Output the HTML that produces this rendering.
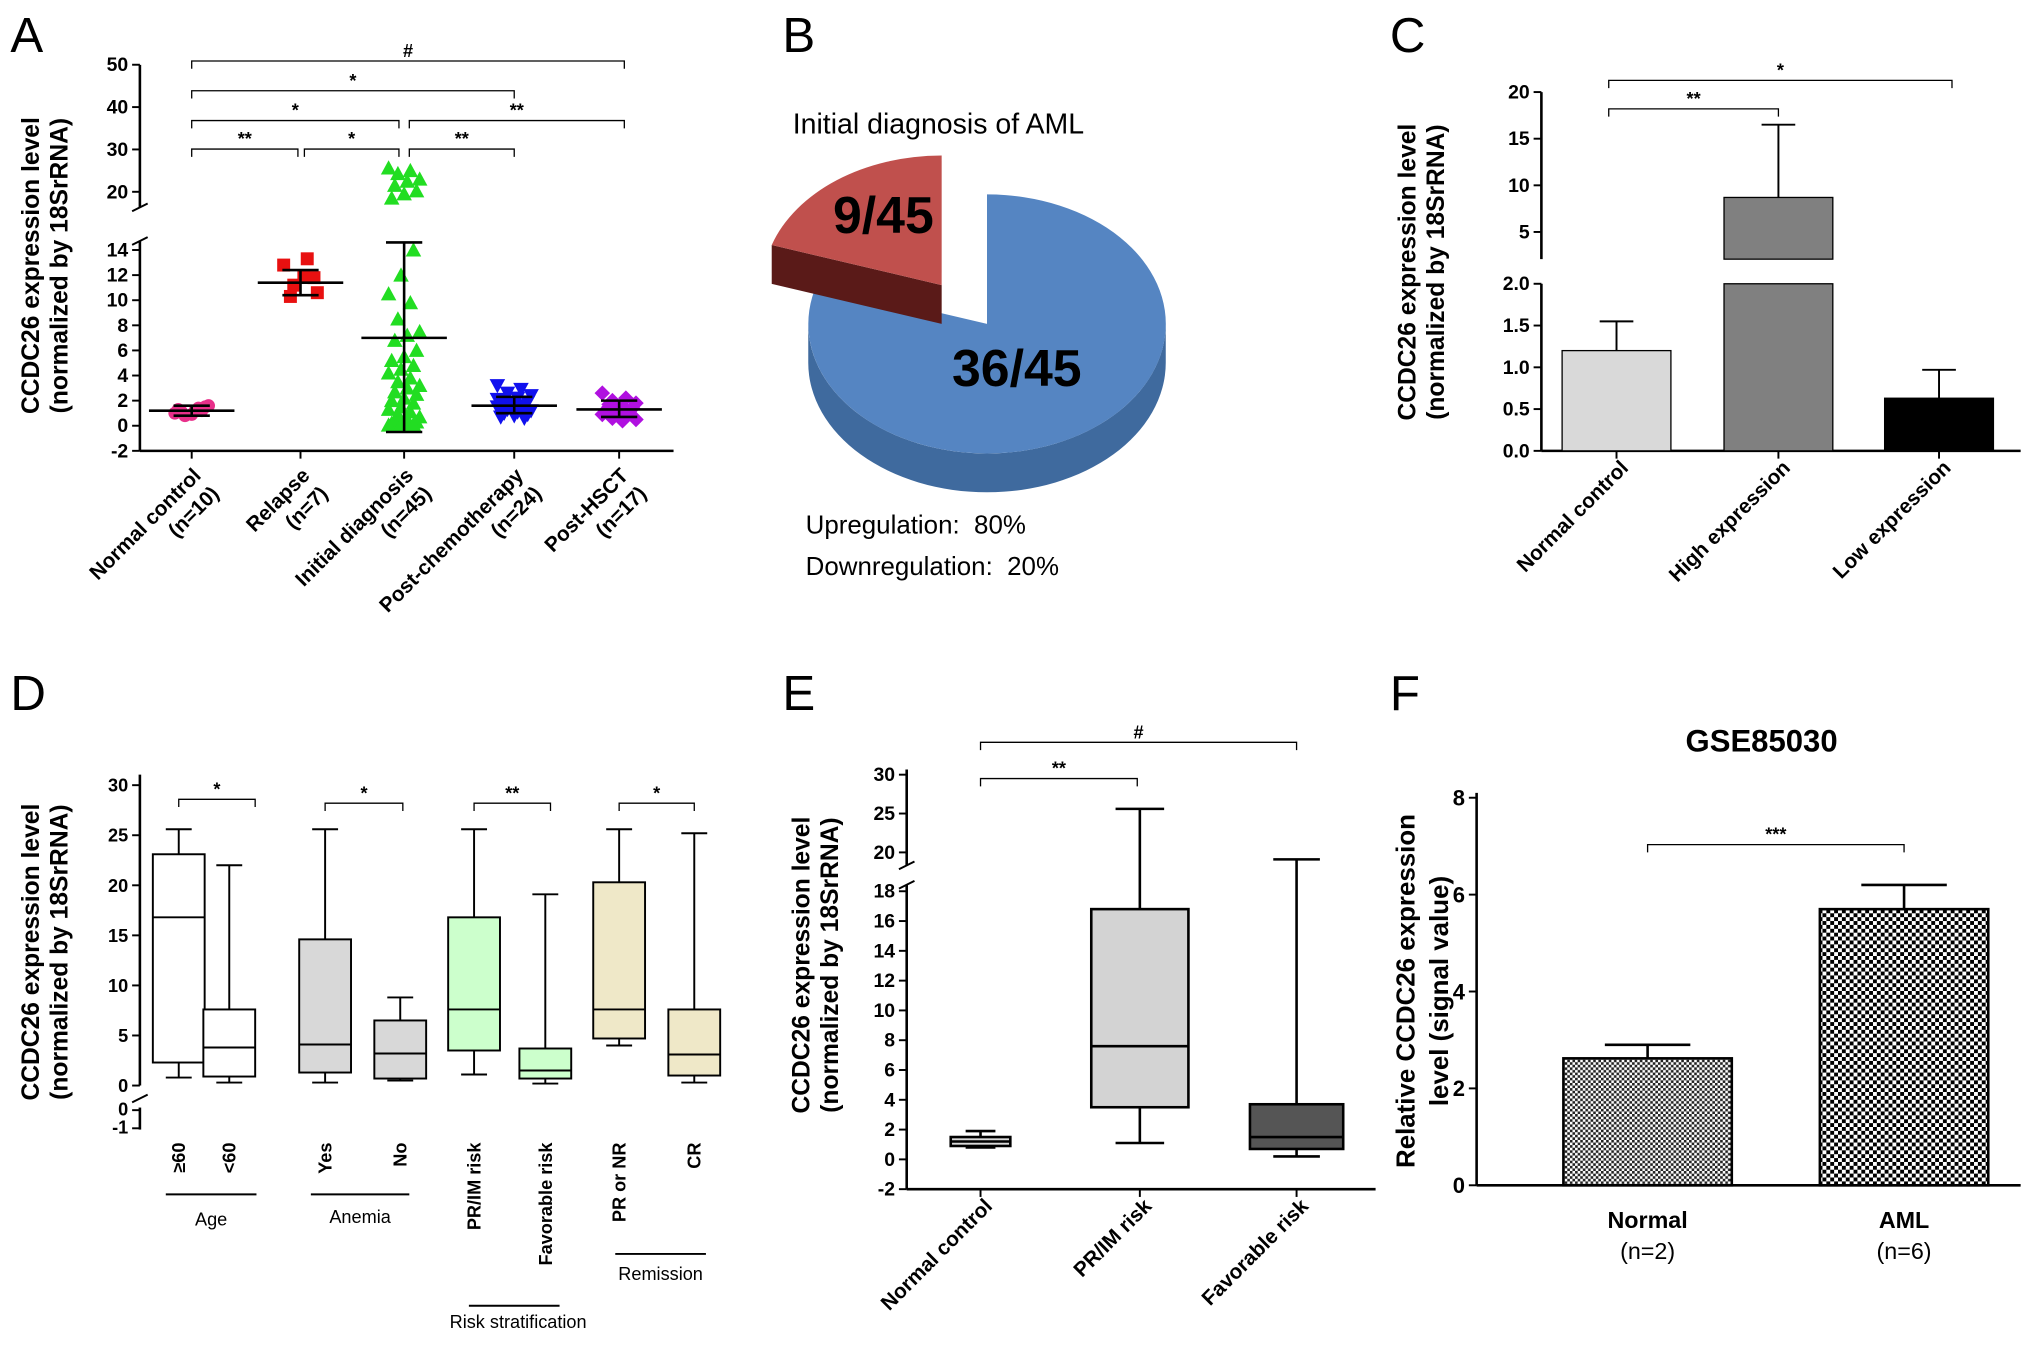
<!DOCTYPE html>
<html><head><meta charset="utf-8"><style>
html,body{margin:0;padding:0;background:#fff;}
svg{display:block;font-family:"Liberation Sans",Arial,sans-serif;}
</style></head><body>
<svg id="fig" width="2031" height="1346" viewBox="0 0 1568 1039" xmlns="http://www.w3.org/2000/svg">
<defs>
<pattern id="chkF" width="6" height="6" patternUnits="userSpaceOnUse"><rect width="6" height="6" fill="#fff"/><rect width="3" height="3" fill="#000"/><rect x="3" y="3" width="3" height="3" fill="#000"/></pattern>
<pattern id="chkN" width="4" height="4" patternUnits="userSpaceOnUse"><rect width="4" height="4" fill="#fff"/><rect width="2" height="2" fill="#222"/><rect x="2" y="2" width="2" height="2" fill="#222"/></pattern>
</defs>
</svg>
<script>
// ===== Panel A data =====
const aCats = ["Normal control","Relapse","Initial diagnosis","Post-chemotherapy","Post-HSCT"];
const aN = ["(n=10)","(n=7)","(n=45)","(n=24)","(n=17)"];
const aNormal = [1.0,1.4,0.8,1.6,1.2,1.1,1.5,0.9,1.3,1.2];
const aRelapse = [12.8,13.3,11.2,10.6,11.9,10.3,11.8];
const aInitial = [25.6,25,24.3,23,22.5,21.5,20.2,19.5,18.5,14,12,10.5,9.8,8.5,7.5,7.2,6.8,6,5.5,5.2,4.8,4.5,4.2,3.8,3.5,3.2,3,2.7,2.5,2.2,2,1.8,1.5,1.3,1.1,0.9,0.7,0.5,0.4,0.3,0.2,0.2,0.1,0.1,0.05];
const aChemo = [3.2,2.9,2.6,2.4,2.2,2.0,1.9,1.8,1.7,1.6,1.5,1.5,1.4,1.3,1.2,1.1,1.0,0.9,0.8,0.7,0.6,1.8,2.1,1.2];
const aHSCT = [2.6,2.2,2.0,1.8,1.6,1.5,1.4,1.3,1.2,1.1,1.0,0.9,0.8,0.6,0.5,0.4,1.7];
const aMeans = [1.2,11.4,7.0,1.6,1.3];
const aErrLo = [0.8,10.4,-0.5,1.0,0.7];
const aErrHi = [1.6,12.4,14.6,2.3,2.0];
const aLowTicks = [-2,0,2,4,6,8,10,12,14];
const aHighTicks = [20,30,40,50];
// ===== Panel C data =====
const cCats = ["Normal control","High expression","Low expression"];
const cVals = [1.2,8.7,0.63];
const cErr = [1.55,16.5,0.97];
const cLowTicks = [0,0.5,1.0,1.5,2.0];
const cHighTicks = [5,10,15,20];
// ===== Panel D data =====
const dLabels = ["≥60","<60","Yes","No","PR/IM risk","Favorable risk","PR or NR","CR"];
const dMin = [0.8,0.3,0.3,0.5,1.1,0.2,4.0,0.3];
const dQ1 = [2.3,0.9,1.3,0.7,3.5,0.7,4.7,1.0];
const dMed = [16.8,3.8,4.1,3.2,7.6,1.5,7.6,3.1];
const dQ3 = [23.1,7.6,14.6,6.5,16.8,3.7,20.3,7.6];
const dMax = [25.6,22.0,25.6,8.8,25.6,19.1,25.6,25.2];
const dTicks = [0,5,10,15,20,25,30];
// ===== Panel E data =====
const eCats = ["Normal control","PR/IM risk","Favorable risk"];
const eMin = [0.8,1.1,0.2];
const eQ1 = [0.9,3.5,0.7];
const eMed = [1.2,7.6,1.5];
const eQ3 = [1.5,16.8,3.7];
const eMax = [1.9,25.6,19.1];
const eLowTicks = [-2,0,2,4,6,8,10,12,14,16,18];
const eHighTicks = [20,25,30];
// ===== Panel F data =====
const fCats = ["Normal","AML"];
const fN = ["(n=2)","(n=6)"];
const fVals = [2.62,5.7];
const fErr = [2.9,6.2];
const fTicks = [0,2,4,6,8];
// ===== Panel B data =====
const pieVals = [36,9];

const NS="http://www.w3.org/2000/svg";
const svg=document.getElementById('fig');
function mk(tag,attrs,name,parent){
  const e=document.createElementNS(NS,tag);
  for(const k in attrs) e.setAttribute(k,attrs[k]);
  
  
  (parent||svg).appendChild(e);
  return e;
}
function txt(x,y,s,size,name,opt){
  opt=opt||{};
  const a={x:x,y:y,'font-size':size,fill:opt.fill||'#000','text-anchor':opt.anchor||'start'};
  if(opt.bold) a['font-weight']='bold';
  if(opt.rot!==undefined) a.transform='rotate('+opt.rot+' '+x+' '+y+')';
  if(opt.family) a['font-family']=opt.family;
  const t=mk('text',a,name,opt.parent);
  t.textContent=s;
  return t;
}
function line(x1,y1,x2,y2,name,w,c){return mk('line',{x1:x1,y1:y1,x2:x2,y2:y2,stroke:c||'#000','stroke-width':w||1.5},name);}
function bracket(x1,x2,y,label,name){
  mk('path',{d:'M'+x1+' '+(y+6)+'V'+y+'H'+x2+'V'+(y+6),fill:'none',stroke:'#000','stroke-width':1},name);
  txt((x1+x2)/2,y-3,label,14,name+'-label',{anchor:'middle',bold:true});
}
function panelLetter(x,y,s){txt(x,y,s,38,'panel-letter-'+s.toLowerCase(),{});}

panelLetter(8,40,'A');panelLetter(604,40,'B');panelLetter(1073,40,'C');
panelLetter(8,548,'D');panelLetter(604,548,'E');panelLetter(1073,548,'F');

// ================= PANEL A =================
const yA=v=> v<=15 ? 328.6 - v*9.69 : 148 - (v-20)*3.27;
const xA=[148,232,312,397,478];
const axA=108;
line(axA,348,axA,186,'a-y-axis-lower',2);
line(axA,160,axA,50,'a-y-axis-upper',2);
line(axA-6,189,axA+6,183,'a-axis-break',1.5);line(axA-6,163,axA+6,157,'a-axis-break',1.5);
aLowTicks.forEach(v=>{line(axA-6,yA(v),axA,yA(v),'a-y-tick',1.5);txt(axA-9,yA(v)+5,String(v),15,'a-y-tick-label',{anchor:'end',bold:true});});
aHighTicks.forEach(v=>{line(axA-6,yA(v),axA,yA(v),'a-y-tick',1.5);txt(axA-9,yA(v)+5,String(v),15,'a-y-tick-label',{anchor:'end',bold:true});});
line(axA,348,520,348,'a-x-axis',2);
xA.forEach(x=>line(x,348,x,354,'a-x-tick',1.5));
txt(30,205,'CCDC26 expression level',19,'a-y-axis-title',{anchor:'middle',bold:true,rot:-90});
txt(52,205,'(normalized by 18SrRNA)',19,'a-y-axis-title-2',{anchor:'middle',bold:true,rot:-90});
aCats.forEach((c,i)=>{
  txt(xA[i]+8,368,c,16,'a-x-label',{anchor:'end',bold:true,rot:-45});
  txt(xA[i]+22,382,aN[i],16,'a-x-label-n',{anchor:'end',bold:true,rot:-45});
});
function jit(i,n){return ((i*7)%11-5)*n;}
const aSeries=[aNormal,aRelapse,aInitial,aChemo,aHSCT];
const aCol=['#e8308a','#e81010','#22dd22','#1010ee','#b010e0'];
aSeries.forEach((arr,k)=>{
  arr.forEach((v,i)=>{
    const x=xA[k]+jit(i,k==2?2.4:2.6), y=yA(v);
    if(k==0) mk('circle',{cx:x,cy:y,r:5,fill:aCol[k]},'a-point-normal');
    else if(k==1) mk('rect',{x:x-5,y:y-5,width:10,height:10,fill:aCol[k]},'a-point-relapse');
    else if(k==2) mk('path',{d:'M'+x+' '+(y-6)+'L'+(x+6)+' '+(y+5)+'L'+(x-6)+' '+(y+5)+'Z',fill:aCol[k]},'a-point-initial');
    else if(k==3) mk('path',{d:'M'+(x-6)+' '+(y-5)+'L'+(x+6)+' '+(y-5)+'L'+x+' '+(y+6)+'Z',fill:aCol[k]},'a-point-chemo');
    else mk('path',{d:'M'+x+' '+(y-6)+'L'+(x+6)+' '+y+'L'+x+' '+(y+6)+'L'+(x-6)+' '+y+'Z',fill:aCol[k]},'a-point-hsct');
  });
  const x=xA[k];
  line(x-33,yA(aMeans[k]),x+33,yA(aMeans[k]),'a-mean-line',2);
  line(x,yA(aErrLo[k]),x,yA(aErrHi[k]),'a-error-bar',2);
  line(x-14,yA(aErrLo[k]),x+14,yA(aErrLo[k]),'a-error-cap',2);
  line(x-14,yA(aErrHi[k]),x+14,yA(aErrHi[k]),'a-error-cap',2);
});
bracket(148,482,47,'#','a-bracket-hash');
bracket(148,397,70,'*','a-bracket');
bracket(148,308,93,'*','a-bracket');
bracket(316,482,93,'**','a-bracket');
bracket(148,230,115,'**','a-bracket');
bracket(235,308,115,'*','a-bracket');
bracket(316,397,115,'**','a-bracket');

// ================= PANEL B =================
(function(){
  const cx=762,cy=250,rx=138,ry=100,dep=30;
  const tot=pieVals[0]+pieVals[1];
  const a0=-90*Math.PI/180, a1=a0+pieVals[0]/tot*2*Math.PI;
  const P=(a,dx,dy,dz)=>[(cx+dx+rx*Math.cos(a)).toFixed(1),(cy+dy+dz+ry*Math.sin(a)).toFixed(1)];
  mk('path',{d:`M${P(0,0,0,0)} A${rx} ${ry} 0 0 1 ${P(Math.PI,0,0,0)} L${P(Math.PI,0,0,dep)} A${rx} ${ry} 0 0 0 ${P(0,0,0,dep)}Z`,fill:'#3f6a9e'},'b-slice-blue-side');
  const large=(a1-a0)>Math.PI?1:0;
  mk('path',{d:`M${cx} ${cy} L${P(a0,0,0,0)} A${rx} ${ry} 0 ${large} 1 ${P(a1,0,0,0)} Z`,fill:'#5585c2'},'b-slice-upregulation');
  const dx=-35,dy=-30;
  mk('path',{d:`M${cx+dx} ${cy+dy} L${cx+dx} ${cy+dy+dep} L${P(a1,dx,dy,dep)} L${P(a1,dx,dy,0)}Z`,fill:'#5a1a18'},'b-slice-red-side');
  mk('path',{d:`M${cx+dx} ${cy+dy} L${P(a1,dx,dy,0)} A${rx} ${ry} 0 0 1 ${P(a0+2*Math.PI,dx,dy,0)} Z`,fill:'#c0504d'},'b-slice-downregulation');
  txt(682,180,'9/45',40,'b-label-9-45',{anchor:'middle',bold:true,family:'"Liberation Sans Narrow","Liberation Sans",sans-serif'});
  txt(785,298,'36/45',40,'b-label-36-45',{anchor:'middle',bold:true,family:'"Liberation Sans Narrow","Liberation Sans",sans-serif'});
})();
txt(612,103,'Initial diagnosis of AML',22,'b-title',{});
txt(622,412,'Upregulation:\u00a0\u00a080%',20,'b-legend-up',{});
txt(622,444,'Downregulation:\u00a0\u00a020%',20,'b-legend-down',{});

// ================= PANEL C =================
const yC=v=> v<=2.05 ? 348 - v*64.5 : 179 - (v-5)*7.2;
const xC=[1248,1373,1497];
const axC=1190, bwC=84;
line(axC,348,axC,219,'c-y-axis-lower',2);
line(axC,200,axC,71,'c-y-axis-upper',2);
cLowTicks.forEach(v=>{line(axC-6,yC(v),axC,yC(v),'c-y-tick',1.5);txt(axC-9,yC(v)+5,v.toFixed(1),15,'c-y-tick-label',{anchor:'end',bold:true});});
cHighTicks.forEach(v=>{line(axC-6,yC(v),axC,yC(v),'c-y-tick',1.5);txt(axC-9,yC(v)+5,String(v),15,'c-y-tick-label',{anchor:'end',bold:true});});
line(axC,348,1560,348,'c-x-axis',2);
txt(1093,210,'CCDC26 expression level',19,'c-y-axis-title',{anchor:'middle',bold:true,rot:-90});
txt(1115,210,'(normalized by 18SrRNA)',19,'c-y-axis-title-2',{anchor:'middle',bold:true,rot:-90});
const cFill=['#d9d9d9','#808080','#000'];
cVals.forEach((v,i)=>{
  const x=xC[i]-bwC/2;
  line(xC[i],yC(v),xC[i],yC(cErr[i]),'c-error-bar',1.5);
  line(xC[i]-13,yC(cErr[i]),xC[i]+13,yC(cErr[i]),'c-error-cap',1.5);
  if(v>2.05){
    mk('rect',{x:x,y:219,width:bwC,height:348-219,fill:cFill[i],stroke:'#000','stroke-width':1},'c-bar-lower');
    mk('rect',{x:x,y:yC(v),width:bwC,height:200-yC(v),fill:cFill[i],stroke:'#000','stroke-width':1},'c-bar-upper');
  } else mk('rect',{x:x,y:yC(v),width:bwC,height:348-yC(v),fill:cFill[i],stroke:'#000','stroke-width':1},'c-bar');
  line(xC[i],348,xC[i],354,'c-x-tick',1.5);
  txt(xC[i]+10,362,cCats[i],16,'c-x-label',{anchor:'end',bold:true,rot:-45});
});
bracket(1242,1373,84,'**','c-bracket');
bracket(1242,1507,62,'*','c-bracket');

// ================= PANEL D =================
const yD=v=>838 - v*7.73;
const xD=[138,177,251,309,366,421,478,536];
const axD=108, bwD=40;
line(axD,838,axD,598,'d-y-axis',2);
line(axD,855,axD,872,'d-y-axis-lower',2);
dTicks.forEach(v=>{line(axD-6,yD(v),axD,yD(v),'d-y-tick',1.5);txt(axD-9,yD(v)+5,String(v),14,'d-y-tick-label',{anchor:'end',bold:true});});
line(axD-6,857,axD,857,'d-y-tick',1.5);txt(axD-9,861,'0',14,'d-y-tick-label',{anchor:'end',bold:true});
line(axD-6,871,axD,871,'d-y-tick',1.5);txt(axD-9,875,'-1',14,'d-y-tick-label',{anchor:'end',bold:true});
line(axD-6,851,axD+6,845,'d-axis-break',1.5);
txt(30,735,'CCDC26 expression level',19,'d-y-axis-title',{anchor:'middle',bold:true,rot:-90});
txt(52,735,'(normalized by 18SrRNA)',19,'d-y-axis-title-2',{anchor:'middle',bold:true,rot:-90});
const dFill=['#fff','#fff','#d8d8d8','#d8d8d8','#ccffcc','#ccffcc','#efe8c8','#efe8c8'];
xD.forEach((x,i)=>{
  line(x,yD(dMin[i]),x,yD(dMax[i]),'d-whisker',1.5);
  line(x-bwD/4,yD(dMax[i]),x+bwD/4,yD(dMax[i]),'d-whisker-cap',1.5);
  line(x-bwD/4,yD(dMin[i]),x+bwD/4,yD(dMin[i]),'d-whisker-cap',1.5);
  mk('rect',{x:x-bwD/2,y:yD(dQ3[i]),width:bwD,height:yD(dQ1[i])-yD(dQ3[i]),fill:dFill[i],stroke:'#000','stroke-width':1.5},'d-box');
  line(x-bwD/2,yD(dMed[i]),x+bwD/2,yD(dMed[i]),'d-median',1.5);
  txt(x+5,882,dLabels[i],14,'d-x-label',{anchor:'end',bold:true,rot:-90});
});
line(128,922,198,922,'d-group-line-age',1.5);txt(163,946,'Age',14,'d-group-label-age',{anchor:'middle'});
line(240,922,316,922,'d-group-line-anemia',1.5);txt(278,944,'Anemia',14,'d-group-label-anemia',{anchor:'middle'});
line(362,1008,432,1008,'d-group-line-risk',1.5);txt(400,1025,'Risk stratification',14,'d-group-label-risk',{anchor:'middle'});
line(475,968,545,968,'d-group-line-remission',1.5);txt(510,988,'Remission',14,'d-group-label-remission',{anchor:'middle'});
bracket(138,197,617,'*','d-bracket');
bracket(251,311,620,'*','d-bracket');
bracket(366,425,620,'**','d-bracket');
bracket(478,536,620,'*','d-bracket');

// ================= PANEL E =================
const yE=v=> v<=18.5 ? 895 - v*11.5 : 658 - (v-20)*6;
const xE=[757,880,1001];
const bwE=[46,75,72];
const axE=700;
line(axE,918,axE,683,'e-y-axis-lower',2);
line(axE,668,axE,594,'e-y-axis-upper',2);
line(axE-6,686,axE+6,680,'e-axis-break',1.5);line(axE-6,671,axE+6,665,'e-axis-break',1.5);
eLowTicks.forEach(v=>{line(axE-6,yE(v),axE,yE(v),'e-y-tick',1.5);txt(axE-9,yE(v)+5,String(v),15,'e-y-tick-label',{anchor:'end',bold:true});});
eHighTicks.forEach(v=>{line(axE-6,yE(v),axE,yE(v),'e-y-tick',1.5);txt(axE-9,yE(v)+5,String(v),15,'e-y-tick-label',{anchor:'end',bold:true});});
line(axE,918,1062,918,'e-x-axis',2);
txt(625,745,'CCDC26 expression level',19,'e-y-axis-title',{anchor:'middle',bold:true,rot:-90});
txt(647,745,'(normalized by 18SrRNA)',19,'e-y-axis-title-2',{anchor:'middle',bold:true,rot:-90});
const eFill=['#d9d9d9','#d3d3d3','#555'];
xE.forEach((x,i)=>{
  const w=bwE[i];
  line(x,yE(eMin[i]),x,yE(eMax[i]),'e-whisker',2);
  line(x-w/4,yE(eMax[i]),x+w/4,yE(eMax[i]),'e-whisker-cap',2);
  line(x-w/4,yE(eMin[i]),x+w/4,yE(eMin[i]),'e-whisker-cap',2);
  mk('rect',{x:x-w/2,y:yE(eQ3[i]),width:w,height:yE(eQ1[i])-yE(eQ3[i]),fill:eFill[i],stroke:'#000','stroke-width':2},'e-box');
  line(x-w/2,yE(eMed[i]),x+w/2,yE(eMed[i]),'e-median',2);
  line(x,918,x,924,'e-x-tick',1.5);
  txt(x+10,932,eCats[i],16,'e-x-label',{anchor:'end',bold:true,rot:-45});
});
bracket(757,1001,573,'#','e-bracket-hash');
bracket(757,878,601,'**','e-bracket');

// ================= PANEL F =================
const yF=v=>915 - v*37.4;
const xF=[1272,1470];
const axF=1140, bwF=130;
line(axF,915,axF,612,'f-y-axis',2);
fTicks.forEach(v=>{line(axF-6,yF(v),axF,yF(v),'f-y-tick',1.5);txt(axF-9,yF(v)+6,String(v),17,'f-y-tick-label',{anchor:'end',bold:true});});
line(axF,915,1560,915,'f-x-axis',2);
txt(1360,580,'GSE85030',24,'f-title',{anchor:'middle',bold:true});
txt(1092,765,'Relative CCDC26 expression',20,'f-y-axis-title',{anchor:'middle',bold:true,rot:-90});
txt(1118,765,'level (signal value)',20,'f-y-axis-title-2',{anchor:'middle',bold:true,rot:-90});
const fFill=['url(#chkN)','url(#chkF)'];
fVals.forEach((v,i)=>{
  line(xF[i],yF(v),xF[i],yF(fErr[i]),'f-error-bar',2);
  line(xF[i]-33,yF(fErr[i]),xF[i]+33,yF(fErr[i]),'f-error-cap',2);
  mk('rect',{x:xF[i]-bwF/2,y:yF(v),width:bwF,height:915-yF(v),fill:fFill[i],stroke:'#000','stroke-width':2},'f-bar');
  txt(xF[i],948,fCats[i],18,'f-x-label',{anchor:'middle',bold:true});
  txt(xF[i],972,fN[i],18,'f-x-label-n',{anchor:'middle'});
});
bracket(1272,1470,652,'***','f-bracket');
</script>
</body></html>
